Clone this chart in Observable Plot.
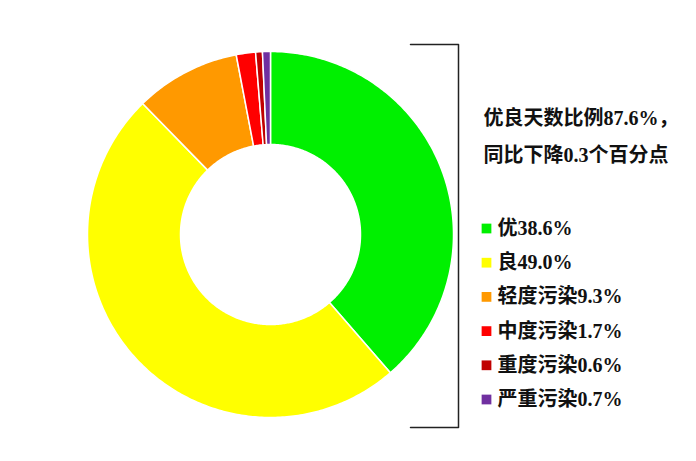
<!DOCTYPE html>
<html><head><meta charset="utf-8">
<script src="https://cdn.jsdelivr.net/npm/d3@7"></script>
<script src="https://cdn.jsdelivr.net/npm/@observablehq/plot@0.6"></script>
<style>body{margin:0;background:#fff}</style>
</head><body><div id="chart"></div>
<script>
const categories = ["优","良","轻度污染","中度污染","重度污染","严重污染"];
const values = [38.6, 49.0, 9.3, 1.7, 0.6, 0.7];
const colors = ["#00f000","#ffff00","#ff9900","#ff0000","#c00000","#7030a0"];
const headerLines = ["优良天数比例87.6%，","同比下降0.3个百分点"];

const W = 696, H = 461;
const cx = 270, cy = 234, R = 183, r0 = 90;
const pie = d3.pie().sort(null).value(d => d.v)(categories.map((c,i)=>({c, v: values[i]})));
const pts = [];
pie.forEach(s => {
  const n = Math.max(4, Math.ceil((s.endAngle - s.startAngle) * 80));
  for (let k = 0; k <= n; k++) { const a = s.startAngle + (s.endAngle - s.startAngle) * k / n; pts.push({c: s.data.c, x: cx + R*Math.sin(a), y: cy - R*Math.cos(a)}); }
  for (let k = n; k >= 0; k--) { const a = s.startAngle + (s.endAngle - s.startAngle) * k / n; pts.push({c: s.data.c, x: cx + r0*Math.sin(a), y: cy - r0*Math.cos(a)}); }
});
const legend = categories.map((c,i)=>({c, label: c + values[i].toFixed(1) + "%", x: 486, y: 228 + i*34.2}));
const header = headerLines.map((t,i)=>({t, x: 483, y: 118 + i*37}));
const bracket = [{x:410,y:44},{x:458,y:44},{x:458,y:427},{x:410,y:427}];
const font = "'Liberation Serif','Noto Sans CJK SC',serif";

const chart = Plot.plot({
  width: W, height: H, margin: 0,
  x: {domain: [0, W], range: [0, W], axis: null},
  y: {domain: [0, H], range: [0, H], axis: null},
  color: {domain: categories, range: colors},
  marks: [
    Plot.line(pts, {x: "x", y: "y", z: "c", fill: "c", stroke: "white", strokeWidth: 1.5, curve: "linear-closed"}),
    Plot.line(bracket, {x: "x", y: "y", stroke: "#222", strokeWidth: 1.5}),
    Plot.dot(legend, {x: "x", y: "y", symbol: "square", r: 5.5, fill: "c"}),
    Plot.text(legend, {x: d => d.x + 11, y: "y", text: "label", textAnchor: "start", fontSize: 20, fontWeight: "bold", fontFamily: font, fill: "#111"}),
    Plot.text(header, {x: "x", y: "y", text: "t", textAnchor: "start", fontSize: 20, fontWeight: "bold", fontFamily: font, fill: "#111"})
  ]
});
document.getElementById("chart").append(chart);
</script></body></html>
